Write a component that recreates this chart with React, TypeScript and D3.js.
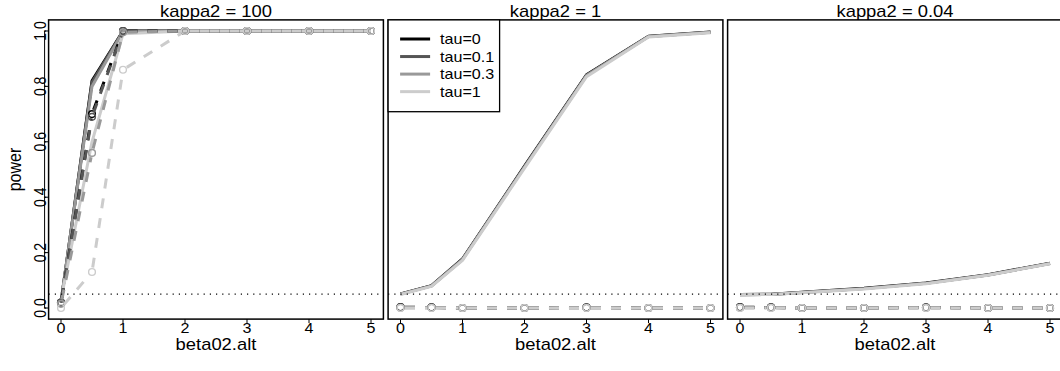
import React from "react";
import * as d3 from "d3";

// beta02.alt values on the x axis
const betaAlt = [0, 0.5, 1, 2, 3, 4, 5];
const tauLabels = ["tau=0", "tau=0.1", "tau=0.3", "tau=1"];
const panelTitles = ["kappa2 = 100", "kappa2 = 1", "kappa2 = 0.04"];
const xTicks = [0, 1, 2, 3, 4, 5];
const yTicks = [0, 0.2, 0.4, 0.6, 0.8, 1.0];
const alpha = 0.05;

// solid lines (one per tau), kappa2 = 100
const solidK100 = [
  [0.02, 0.82, 1.0, 1.0, 1.0, 1.0, 1.0],
  [0.02, 0.815, 1.0, 1.0, 1.0, 1.0, 1.0],
  [0.025, 0.8, 0.998, 1.0, 1.0, 1.0, 1.0],
  [0.03, 0.6, 0.99, 1.0, 1.0, 1.0, 1.0],
];
// dashed lines with points, kappa2 = 100
const dashedK100 = [
  [0.02, 0.7, 1.0, 1.0, 1.0, 1.0, 1.0],
  [0.02, 0.69, 1.0, 1.0, 1.0, 1.0, 1.0],
  [0.015, 0.56, 0.995, 1.0, 1.0, 1.0, 1.0],
  [0.0, 0.13, 0.86, 1.0, 1.0, 1.0, 1.0],
];
const solidK1 = [
  [0.051, 0.081, 0.177, 0.512, 0.842, 0.981, 0.996],
  [0.05, 0.08, 0.176, 0.51, 0.84, 0.98, 0.995],
  [0.05, 0.08, 0.175, 0.509, 0.839, 0.98, 0.995],
  [0.049, 0.078, 0.172, 0.505, 0.835, 0.978, 0.994],
];
const dashedK1 = [
  [0.003, 0.002, 0.0, 0.0, 0.002, 0.0, 0.0],
  [0.002, 0.002, 0.0, 0.0, 0.001, 0.0, 0.0],
  [0.001, 0.001, 0.0, 0.0, 0.001, 0.0, 0.0],
  [0.0, 0.0, 0.0, 0.0, 0.0, 0.0, 0.0],
];
const solidK004 = [
  [0.049, 0.05, 0.057, 0.071, 0.09, 0.12, 0.162],
  [0.048, 0.049, 0.056, 0.07, 0.089, 0.119, 0.161],
  [0.048, 0.049, 0.056, 0.07, 0.089, 0.119, 0.161],
  [0.048, 0.049, 0.055, 0.069, 0.088, 0.118, 0.16],
];
const dashedK004 = [
  [0.003, 0.002, 0.0, 0.0, 0.002, 0.0, 0.0],
  [0.002, 0.002, 0.0, 0.0, 0.001, 0.0, 0.0],
  [0.001, 0.001, 0.0, 0.0, 0.001, 0.0, 0.0],
  [0.0, 0.0, 0.0, 0.0, 0.0, 0.0, 0.0],
];

const solidData = [solidK100, solidK1, solidK004];
const dashedData = [dashedK100, dashedK1, dashedK004];

const tauColors = ["#000000", "#555555", "#999999", "#cccccc"];
const FONT = "'Liberation Sans', Arial, sans-serif";
const SX = 1.15; // the picture is stretched horizontally

const W = 1060;
const H = 371;
const panelW = 334.8;
const panelStep = 339.5;
const firstLeft = 48.6;
const top = 19.9;
const bottom = 319.1;

const Txt = ({ x, y, size, rot = false, anchor = "middle", children }: any) => (
  <text
    transform={`translate(${x},${y}) scale(${SX},1)${rot ? " rotate(-90)" : ""}`}
    fontSize={size}
    fontFamily={FONT}
    textAnchor={anchor}
    fill="#000"
  >
    {children}
  </text>
);

const Panel = ({ idx }: { idx: number }) => {
  const left = firstLeft + idx * panelStep;
  const x = d3.scaleLinear().domain([-0.2, 5.2]).range([left, left + panelW]);
  const y = d3.scaleLinear().domain([-0.04, 1.04]).range([bottom, top]);
  const line = d3
    .line<number>()
    .x((_, i) => x(betaAlt[i]))
    .y((d) => y(d));

  const gap = 4.5;
  const dashedSegs = (vals: number[]) => {
    const segs: { x1: number; y1: number; x2: number; y2: number }[] = [];
    for (let i = 0; i < vals.length - 1; i++) {
      const ax = x(betaAlt[i]), ay = y(vals[i]);
      const bx = x(betaAlt[i + 1]), by = y(vals[i + 1]);
      const len = Math.hypot(bx - ax, by - ay);
      if (len <= 2 * gap) continue;
      const ux = (bx - ax) / len, uy = (by - ay) / len;
      segs.push({ x1: ax + ux * gap, y1: ay + uy * gap, x2: bx - ux * gap, y2: by - uy * gap });
    }
    return segs;
  };

  return (
    <g>
      <defs>
        <clipPath id={`clip${idx}`}>
          <rect x={left} y={top} width={panelW} height={bottom - top} />
        </clipPath>
      </defs>
      <g clipPath={`url(#clip${idx})`}>
        {solidData[idx].map((vals, t) => (
          <path key={"s" + t} d={line(vals) || ""} fill="none" stroke={tauColors[t]} strokeWidth={3} strokeLinejoin="round" />
        ))}
        {dashedData[idx].map((vals, t) => (
          <g key={"d" + t}>
            {dashedSegs(vals).map((s, k) => (
              <line key={k} {...s} stroke={tauColors[t]} strokeWidth={3} strokeDasharray="10,10" />
            ))}
            {vals.map((v, k) => (
              <circle key={k} cx={x(betaAlt[k])} cy={y(v)} r={3.4} fill="none" stroke={tauColors[t]} strokeWidth={1.4} />
            ))}
          </g>
        ))}
        <line x1={left} x2={left + panelW} y1={y(alpha)} y2={y(alpha)} stroke="#000" strokeWidth={1.2} strokeDasharray="1.2,5" />
      </g>
      <rect x={left} y={top} width={panelW} height={bottom - top} fill="none" stroke="#000" strokeWidth={1.5} />
      {/* x axis */}
      {xTicks.map((t) => (
        <g key={t}>
          <line x1={x(t)} x2={x(t)} y1={bottom} y2={bottom + 4} stroke="#000" strokeWidth={1} />
          <Txt x={x(t)} y={333} size={14}>{t}</Txt>
        </g>
      ))}
      <Txt x={left + panelW / 2} y={350} size={16}>beta02.alt</Txt>
      <Txt x={left + panelW / 2} y={16.5} size={16}>{panelTitles[idx]}</Txt>
      {idx === 0 && (
        <g>
          <line x1={left - 4} x2={left - 4} y1={y(0)} y2={y(1)} stroke="#000" strokeWidth={1} />
          {yTicks.map((t) => (
            <g key={t}>
              <line x1={left - 4} x2={left} y1={y(t)} y2={y(t)} stroke="#000" strokeWidth={1} />
              <Txt x={46} y={y(t)} size={14} rot>{d3.format(".1f")(t)}</Txt>
            </g>
          ))}
          <Txt x={21} y={(top + bottom) / 2} size={16} rot>power</Txt>
        </g>
      )}
      {idx === 1 && (
        <g>
          <rect x={left} y={top} width={111.5} height={91.8} fill="#fff" stroke="#000" strokeWidth={1.3} />
          {tauLabels.map((lab, t) => (
            <g key={lab}>
              <line x1={left + 12} x2={left + 42} y1={39 + t * 17.55} y2={39 + t * 17.55} stroke={tauColors[t]} strokeWidth={3} />
              <Txt x={left + 52} y={39 + t * 17.55 + 5} size={14} anchor="start">{lab}</Txt>
            </g>
          ))}
        </g>
      )}
    </g>
  );
};

export default function App() {
  return (
    <svg width={W} height={H} style={{ position: "absolute", left: 0, top: 0, background: "#fff" }}>
      <rect width={W} height={H} fill="#fff" />
      {panelTitles.map((_, i) => (
        <Panel key={i} idx={i} />
      ))}
    </svg>
  );
}
